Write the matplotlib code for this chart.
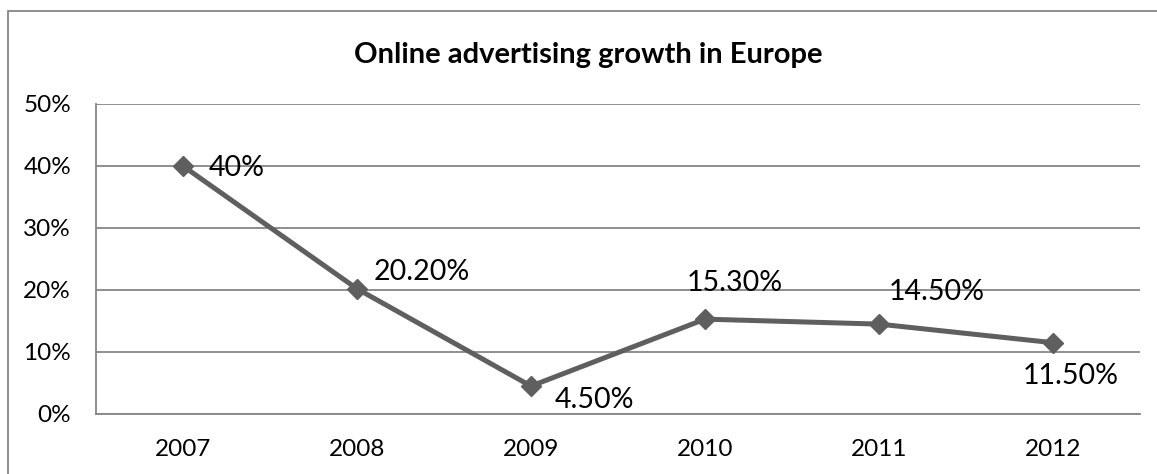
import numpy as np
import matplotlib
matplotlib.use("Agg")
import matplotlib.pyplot as plt
from matplotlib.patches import Rectangle

# growth per year (fraction)
years = ["2007", "2008", "2009", "2010", "2011", "2012"]
growth = [0.40, 0.202, 0.045, 0.153, 0.145, 0.115]
point_labels = ["40%", "20.20%", "4.50%", "15.30%", "14.50%", "11.50%"]
yticks = [0.0, 0.1, 0.2, 0.3, 0.4, 0.5]
ytick_labels = ["0%", "10%", "20%", "30%", "40%", "50%"]

# label offsets in pixels (left edge of text, vertical centre)
label_offsets = [(26, -2), (17, 17), (24, -14), (-18, 36), (10, 32), (-30, -33)]

plt.rcParams['font.family'] = ['Lato', 'DejaVu Sans']
grey = '#868686'
line_col = '#5f5f5f'

fig = plt.figure(figsize=(11.57, 4.74), dpi=100)
ax = fig.add_axes([96/1157, 1-414/474, (1140-96)/1157, (414-104)/474])

x = np.arange(len(years))
ax.plot(x, growth, color=line_col, lw=3.6, marker='D', ms=10, mfc=line_col, mec=line_col, zorder=3, clip_on=False)

for xi, yi, lab, (dx, dy) in zip(x, growth, point_labels, label_offsets):
    ax.annotate(lab, (xi, yi), xytext=(dx, dy), textcoords='offset pixels',
                ha='left', va='center', fontsize=20.5, color='black', zorder=4)

ax.set_xlim(-0.5, len(years) - 0.5)
ax.set_ylim(0, 0.5)
ax.set_yticks(yticks)
ax.set_yticklabels(ytick_labels)
ax.set_xticks(x)
ax.set_xticklabels(years)
ax.tick_params(axis='both', length=0, labelsize=17.5, colors='black')
ax.tick_params(axis='y', pad=18)
ax.tick_params(axis='x', pad=18)
ax.yaxis.grid(True, color=grey, lw=1.3)
ax.set_axisbelow(True)
for side in ['top', 'right']:
    ax.spines[side].set_visible(False)
ax.spines['left'].set_color(grey)
ax.spines['bottom'].set_color(grey)
ax.spines['left'].set_linewidth(1.3)
ax.spines['bottom'].set_linewidth(1.3)

fig.text(588/1157, 1 - 55/474, "Online advertising growth in Europe",
         ha='center', va='center', fontsize=21, fontweight='bold')

# outer chart frame
fig.patches.append(Rectangle((8/1157, -0.2), 1.2, 1 - 11/474 + 0.2, transform=fig.transFigure,
                             fill=False, edgecolor=grey, lw=1.3))

fig.savefig("out.png", dpi=100)
